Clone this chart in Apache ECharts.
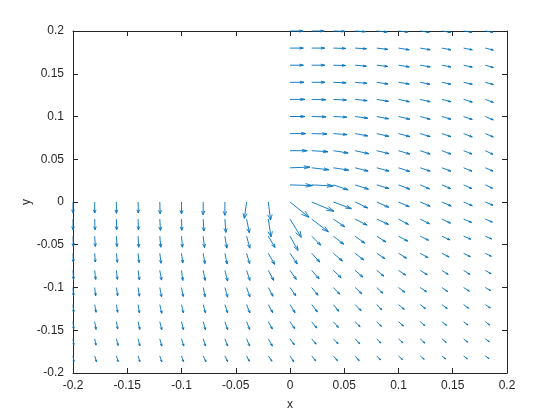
<!DOCTYPE html>
<html><head><meta charset="utf-8">
<script src="https://cdn.jsdelivr.net/npm/echarts@6/dist/echarts.min.js"></script>
<style>html,body{margin:0;padding:0;background:#fff}#c{width:560px;height:420px}</style>
</head><body><div id="c"></div>
<script>
// grid point coordinates
const xs = [-0.2,-0.18,-0.16,-0.14,-0.12,-0.1,-0.08,-0.06,-0.04,-0.02,0,0.02,0.04,0.06,0.08,0.1,0.12,0.14,0.16,0.18];
const ys = [0.2,0.18,0.16,0.14,0.12,0.1,0.08,0.06,0.04,0.02,0,-0.02,-0.04,-0.06,-0.08,-0.1,-0.12,-0.14,-0.16,-0.18];
const E = [null,null,null,null,null,null,null,null,null,null]; // no data (x<0, y>0)
// vector components (units of 0.001 axis units), one row per ys value
const U = [
 [...E, 12.0,11.3,10.4, 9.5, 9.5, 8.6, 8.3, 8.0, 7.7, 7.1],
 [...E, 12.3,12.0,11.3,10.4,10.1, 9.9, 9.2, 8.3, 8.0, 7.4],
 [...E, 12.3,12.0,11.3,10.4,10.1, 9.9, 9.2, 8.3, 8.0, 7.4],
 [...E, 12.9,12.3,11.7,10.8,10.4, 9.9, 8.9, 8.3, 8.0, 7.4],
 [...E, 13.6,12.9,12.0,11.1,10.8,10.1, 9.2, 8.3, 8.0, 7.4],
 [...E, 13.8,13.2,12.3,11.7,10.8,10.4, 9.2, 8.3, 8.0, 7.4],
 [...E, 14.7,14.1,12.6,11.7,11.1,10.4, 9.2, 8.3, 8.0, 7.4],
 [...E, 15.9,15.0,13.6,12.6,11.3,10.4, 9.2, 8.3, 7.7, 7.1],
 [...E, 18.4,15.9,14.1,12.0,11.3,10.4, 9.2, 8.3, 7.7, 7.1],
 [...E, 20.6,20.0,13.6,12.3,11.3,10.4, 8.6, 8.0, 7.7, 6.7],
 [0,0,0,0.2,0.3,0,0,0,-2.1,2.1, 17.5,20.6,16.6,11.7,11.1,9.9,9.2,8.6,8.0,7.1],
 [0,0.3,0.3,0.3,0.6,0.3,0.6,0.9,2.5,2.5, 10.4,15.4,10.4,11.1,10.8,9.2,8.6,8.0,7.4,6.5],
 [0.3,0.6,0.6,0.6,0.9,0.9,1.2,1.8,3.0,6.2, 7.4,8.3,9.5,8.9,8.3,8.6,7.7,7.4,6.7,5.8],
 [0.3,0.6,0.9,0.9,1.2,1.2,1.6,2.1,2.8,5.8, 6.7,7.4,8.3,8.0,7.4,7.4,7.1,6.7,6.2,5.5],
 [0.5,0.9,0.9,1.2,1.6,1.2,1.8,2.5,3.0,4.9, 5.8,6.7,7.1,7.1,6.5,6.5,6.5,5.8,5.8,5.3],
 [0.5,0.9,1.2,1.2,1.6,1.6,1.8,2.5,3.0,4.3, 5.3,5.8,5.8,6.2,5.5,5.8,5.8,5.3,5.3,4.9],
 [0.6,1.2,1.2,1.2,1.8,1.8,2.1,2.5,3.0,4.0, 4.6,5.3,4.9,5.5,4.6,5.3,4.9,4.9,4.6,4.6],
 [0.6,1.2,1.2,1.6,1.8,1.8,2.1,2.5,2.8,3.7, 4.3,4.6,4.6,4.6,4.3,4.6,4.3,4.3,4.0,4.0],
 [0.7,1.2,1.6,1.6,1.8,2.1,2.1,2.5,2.8,3.7, 4.0,4.0,4.3,4.3,3.7,4.0,4.3,4.0,3.7,3.7],
 [0.8,1.6,1.6,1.6,1.8,1.8,2.5,2.5,2.5,3.4, 3.4,3.7,3.7,3.7,3.4,3.7,3.7,3.4,3.4,3.4]
];
const V = [
 [...E, 0,0,-0.4,-0.8,-1.2,-1.2,-1.5,-1.5,-1.5,-1.5],
 [...E, 0,0,-0.4,-0.8,-1.5,-2.0,-2.0,-2.0,-2.0,-2.3],
 [...E, 0,0,-0.4,-1.2,-1.5,-2.0,-2.0,-2.0,-2.3,-2.7],
 [...E, 0,0,-0.6,-1.2,-2.0,-2.0,-2.3,-2.3,-2.3,-2.7],
 [...E, 0,-0.4,-0.8,-1.5,-2.3,-2.7,-2.7,-2.7,-3.2,-3.5],
 [...E, 0,-0.4,-0.8,-2.0,-2.7,-3.2,-3.2,-3.2,-3.5,-3.9],
 [...E, 0,-0.4,-1.2,-2.7,-3.2,-3.5,-3.5,-3.5,-3.9,-3.9],
 [...E, 0,-1.2,-2.7,-3.5,-3.5,-3.9,-3.9,-3.9,-3.9,-4.3],
 [...E, 0.8,-2.3,-2.7,-3.9,-3.9,-4.3,-3.9,-3.9,-3.9,-3.9],
 [...E, -0.8,-1.2,-5.8,-5.0,-4.3,-5.0,-4.7,-4.3,-4.3,-3.9],
 [-12.9,-12.9,-13.2,-12.9,-13.7,-14.0,-14.9,-15.6,-19.1,-21.1, -17.9,-10.9,-7.8,-7.0,-6.2,-5.5,-5.0,-4.7,-4.3,-3.9],
 [-12.5,-12.5,-12.5,-12.5,-13.2,-13.2,-14.0,-15.6,-16.0,-20.7, -21.4,-14.9,-9.0,-7.0,-6.2,-6.2,-5.5,-4.7,-3.9,-3.5],
 [-12.0,-12.0,-12.0,-12.9,-12.9,-12.9,-13.2,-14.0,-14.0,-13.2, -16.7,-10.5,-9.4,-8.2,-6.7,-5.8,-4.7,-4.3,-3.5,-3.2],
 [-10.2,-10.2,-10.5,-10.9,-11.7,-11.3,-12.0,-12.5,-12.0,-12.9, -12.5,-10.2,-9.0,-7.8,-6.2,-5.8,-5.0,-4.3,-3.9,-3.5],
 [-10.5,-10.5,-10.5,-10.9,-11.3,-11.7,-11.7,-12.5,-11.7,-11.7, -10.5,-9.7,-8.5,-7.8,-6.7,-5.5,-5.0,-4.7,-4.7,-3.9],
 [-9.7,-9.7,-9.7,-10.2,-10.9,-10.5,-10.9,-11.3,-10.9,-10.2, -9.7,-9.0,-7.8,-7.4,-6.7,-5.5,-5.0,-4.7,-4.3,-3.5],
 [-9.0,-9.0,-9.0,-9.7,-10.2,-9.7,-9.7,-9.7,-9.7,-9.4, -9.4,-8.5,-7.8,-7.0,-6.2,-5.5,-4.7,-4.7,-4.3,-3.9],
 [-8.5,-9.0,-8.5,-9.0,-9.4,-9.4,-9.4,-9.4,-9.0,-8.5, -8.2,-7.4,-6.7,-5.8,-5.5,-5.0,-4.7,-4.3,-3.9,-3.9],
 [-7.4,-7.4,-7.8,-8.2,-8.5,-8.5,-8.5,-8.5,-8.5,-8.5, -7.0,-6.2,-5.8,-5.8,-5.0,-4.7,-5.0,-4.3,-3.9,-3.5],
 [-6.7,-6.7,-6.7,-6.7,-7.0,-6.7,-6.7,-6.7,-6.2,-6.2, -6.7,-5.8,-5.5,-5.5,-4.7,-4.3,-3.9,-3.5,-3.5,-3.2]
];
const xTickLabels = ['-0.2','-0.15','-0.1','-0.05','0','0.05','0.1','0.15','0.2'];
const yTickLabels = ['-0.2','-0.15','-0.1','-0.05','0','0.05','0.1','0.15','0.2'];
const xName = 'x', yName = 'y';

const data = [];
for (let i = 0; i < ys.length; i++) {
  for (let j = 0; j < xs.length; j++) {
    if (U[i][j] !== null && U[i][j] !== undefined) data.push([xs[j], ys[i], U[i][j], V[i][j]]);
  }
}
const unit = 0.001;
const color = '#0072BD';
const lw = 0.9;
function renderItem(params, api) {
  const x = api.value(0), y = api.value(1);
  const u = api.value(2) * unit, v = api.value(3) * unit;
  const tx = x + u, ty = y + v;
  const p0 = api.coord([x, y]), p1 = api.coord([tx, ty]);
  const a = 0.3, b = 0.33;
  const h1 = api.coord([tx - a * (u + b * v), ty - a * (v - b * u)]);
  const h2 = api.coord([tx - a * (u - b * v), ty - a * (v + b * u)]);
  return {type: 'group', children: [
    {type: 'line', shape: {x1: p0[0], y1: p0[1], x2: p1[0], y2: p1[1]}, style: {stroke: color, lineWidth: lw}},
    {type: 'polyline', shape: {points: [h1, p1, h2]}, style: {stroke: color, fill: null, lineWidth: lw}}
  ]};
}
const fmt = (labels) => (val) => {
  const idx = Math.round((val + 0.2) / 0.05);
  return labels[idx] !== undefined ? labels[idx] : '';
};
const axisCommon = {
  type: 'value', min: -0.2, max: 0.2, interval: 0.05,
  axisLine: {show: true, onZero: false, lineStyle: {color: '#262626', width: 1}},
  axisTick: {show: true, inside: true, length: 5, lineStyle: {color: '#262626'}},
  splitLine: {show: false}
};
const font = {fontFamily: 'Liberation Sans, Arial, sans-serif', fontSize: 12, color: '#262626'};
const chart = echarts.init(document.getElementById('c'), null, {renderer: 'canvas'});
chart.setOption({
  animation: false,
  backgroundColor: '#ffffff',
  grid: {left: 73, top: 31, width: 434, height: 342, containLabel: false},
  xAxis: [
    Object.assign({}, axisCommon, {position: 'bottom', name: xName, nameLocation: 'middle', nameGap: 26,
      nameMoveOverlap: false,
      nameTextStyle: Object.assign({}, font),
      axisLabel: Object.assign({margin: 7, formatter: fmt(xTickLabels)}, font)}),
    Object.assign({}, axisCommon, {position: 'top', axisLabel: {show: false}})
  ],
  yAxis: [
    Object.assign({}, axisCommon, {position: 'left', name: yName, nameLocation: 'middle', nameGap: 40,
      nameMoveOverlap: false,
      nameRotate: 90, nameTextStyle: Object.assign({}, font),
      axisLabel: Object.assign({margin: 9, formatter: fmt(yTickLabels)}, font)}),
    Object.assign({}, axisCommon, {position: 'right', axisLabel: {show: false}})
  ],
  series: [{
    type: 'custom', xAxisIndex: 0, yAxisIndex: 0,
    renderItem: renderItem,
    encode: {x: 0, y: 1},
    dimensions: ['x', 'y', 'u', 'v'],
    data: data,
    silent: true
  }]
});
</script></body></html>
